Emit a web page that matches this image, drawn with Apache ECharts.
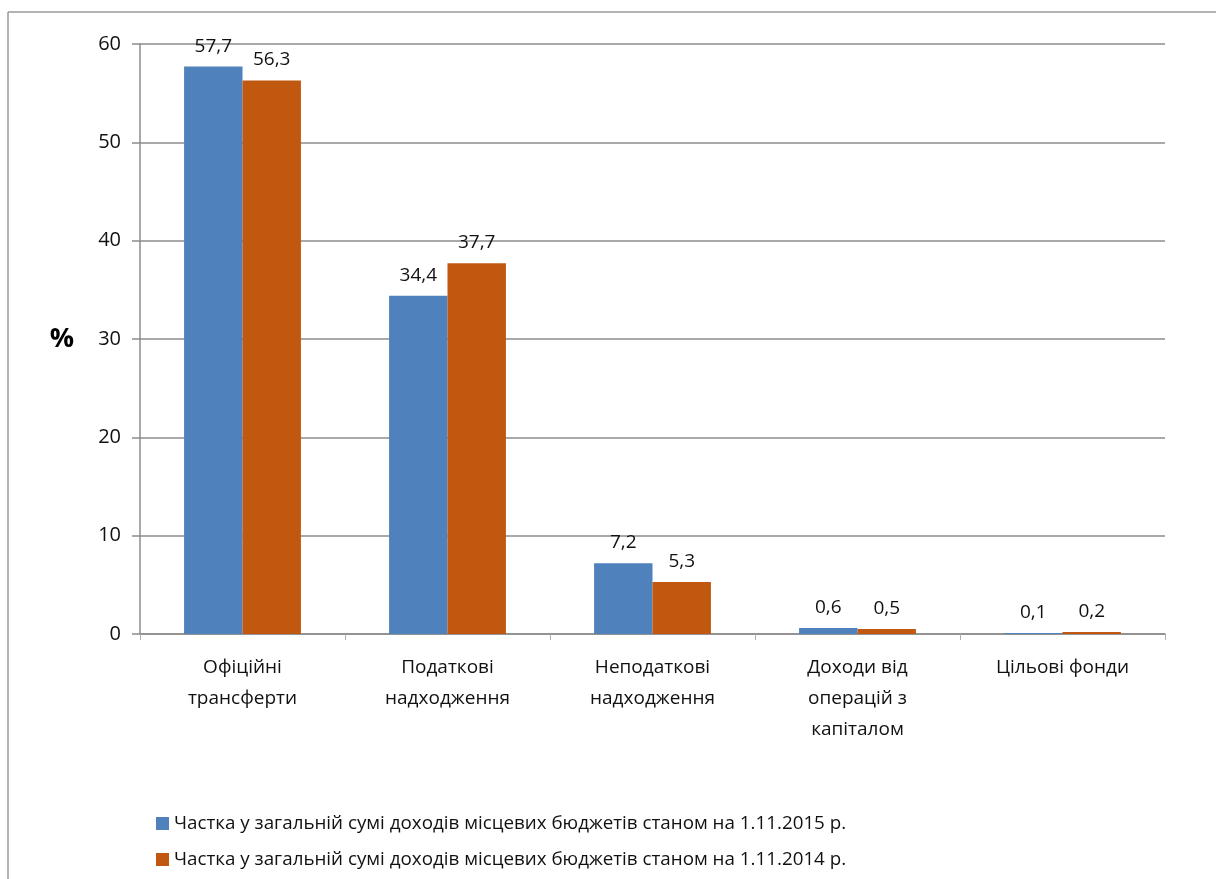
<!DOCTYPE html>
<html>
<head>
<meta charset="utf-8">
<script src="https://cdn.jsdelivr.net/npm/echarts@6/dist/echarts.min.js"></script>
<style>
  html, body { margin: 0; padding: 0; background: #fff; }
  #chart { width: 1216px; height: 879px; }
</style>
</head>
<body>
<div id="chart"></div>
<script>
const categories = ['Офіційні\nтрансферти', 'Податкові\nнадходження', 'Неподаткові\nнадходження', 'Доходи від\nоперацій з\nкапіталом', 'Цільові фонди']
const share2015 = [57.7, 34.4, 7.2, 0.6, 0.1]
const share2014 = [56.3, 37.7, 5.3, 0.5, 0.2]
const seriesNames = [
  'Частка у загальній сумі доходів місцевих бюджетів станом на 1.11.2015 р.',
  'Частка у загальній сумі доходів місцевих бюджетів станом на 1.11.2014 р.'
]

const font = '"Open Sans", "Noto Sans", sans-serif'
const chart = echarts.init(document.getElementById('chart'))

const label = {
  show: true,
  position: 'top',
  distance: 11,
  fontFamily: font,
  fontSize: 19,
  color: '#111',
  formatter: p => String(p.value).replace('.', ',')
}

chart.setOption({
  animation: false,
  textStyle: { fontFamily: font },
  grid: { left: 140, right: 51, top: 44, bottom: 245 },
  legend: {
    orient: 'vertical',
    left: 151,
    top: 809,
    itemWidth: 13,
    itemHeight: 13,
    itemGap: 17,
    icon: 'rect',
    textStyle: { fontFamily: font, fontSize: 18.8, color: '#111' },
    data: seriesNames
  },
  xAxis: {
    type: 'category',
    data: categories,
    axisLine: { lineStyle: { color: '#8c8c8c', width: 1.5 } },
    axisTick: { show: true, length: 6, lineStyle: { color: '#b0b0b0' } },
    axisLabel: { fontFamily: font, fontSize: 19, color: '#111', lineHeight: 31, margin: 18 }
  },
  yAxis: {
    type: 'value',
    min: 0,
    max: 60,
    interval: 10,
    name: '%',
    nameLocation: 'middle',
    nameRotate: 0,
    nameGap: 66,
    nameTextStyle: { fontFamily: font, fontSize: 27, fontWeight: 'bold', color: '#000' },
    axisLine: { show: true, lineStyle: { color: '#8c8c8c', width: 1.5 } },
    axisTick: { show: true, length: 8, lineStyle: { color: '#8c8c8c', width: 1.5 } },
    axisLabel: { fontFamily: font, fontSize: 20, color: '#111', margin: 19 },
    splitLine: { lineStyle: { color: '#8c8c8c', width: 1.5 } }
  },
  series: [
    {
      name: seriesNames[0],
      type: 'bar',
      data: share2015,
      barGap: '0%',
      barCategoryGap: '43%',
      itemStyle: { color: '#4f81bd' },
      label: label
    },
    {
      name: seriesNames[1],
      type: 'bar',
      data: share2014,
      itemStyle: { color: '#c0580f' },
      label: label
    }
  ],
  graphic: [
    { type: 'line', shape: { x1: 8, y1: 12, x2: 1216, y2: 12 }, style: { stroke: '#9a9a9a', lineWidth: 1.5 } },
    { type: 'line', shape: { x1: 8, y1: 12, x2: 8, y2: 879 }, style: { stroke: '#9a9a9a', lineWidth: 1.5 } }
  ]
})
</script>
</body>
</html>
